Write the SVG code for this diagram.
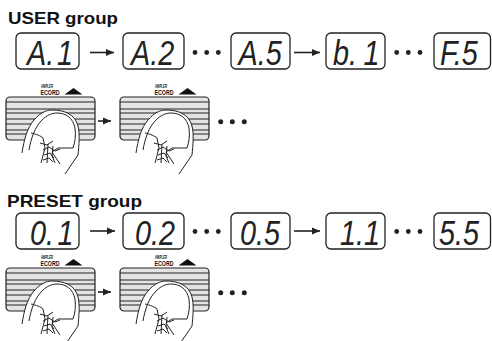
<svg xmlns="http://www.w3.org/2000/svg" xmlns:xlink="http://www.w3.org/1999/xlink" width="492" height="341" viewBox="0 0 492 341">
<style>
.title{font-family:"Liberation Sans",Arial,sans-serif;font-weight:bold;font-size:16.5px;fill:#111}
.box{fill:#fff;stroke:#222;stroke-width:1.3}
.seg{font-family:"Liberation Sans",Arial,sans-serif;font-style:italic;font-size:36px;fill:#222}
.conn{stroke:#222;stroke-width:1.6;fill:none}
.dot{fill:#222}
.lbl{font-family:"Liberation Sans",Arial,sans-serif;font-weight:bold;fill:#111}
.ln{stroke:#222;stroke-width:1;fill:none}
</style>
<defs>
<marker id="ah" markerUnits="userSpaceOnUse" markerWidth="9" markerHeight="8" refX="8" refY="4" orient="auto">
<path d="M0,0.5 L8,4 L0,7.5 Z" fill="#222"/>
</marker>
<g id="pedal">
<text class="lbl" x="47" y="87.5" font-size="5" text-anchor="middle" textLength="12" lengthAdjust="spacingAndGlyphs">AMPLER</text>
<text class="lbl" x="50" y="94.5" font-size="6.5" text-anchor="middle" textLength="19" lengthAdjust="spacingAndGlyphs">ECORD</text>
<polygon points="64.5,94.5 82.5,94.5 73.5,88" fill="#111"/>
<rect x="6" y="97" width="89" height="43" rx="4" fill="#e4e4e4" stroke="#222" stroke-width="1.2"/>
<path class="ln" d="M6,102 H95 M6,109 H95 M6,113 H95 M6,119 H95 M6,124 H95 M6,130 H95 M6,134 H95"/>
<path d="M22,153 C24,140 27,128 34,120 C40,113 46,110 52,110 C64,110 75,114 78,126 C80,134 79,145 78,155 L65,174 L40,166 Z" fill="#fff"/>
<path class="ln" d="M22,153 C24,140 27,128 34,120 C40,113 46,110 52,110 C64,110 75,114 78,126 C80,134 79,145 78,155 L65,174"/>
<path class="ln" d="M29,150 C31,138 35,127 42,120 C47,115 52,113 57,113 C66,113 73,118 75,128 C76,136 75,142 73,148"/>
<path class="ln" d="M31,133 C36,134 41,136 43,138 L45,148 L41,163"/>
<path class="ln" d="M73,148 L58,148 L52,152 L60,164"/>
<path class="ln" stroke-width="0.8" d="M40,143 L47,145 L53,141 M43,150 L49,147 L55,151 L60,149 M44,155 L50,153 L54,158 M43,160 L49,158 L53,162 M48,144 L47,163 M53,146 L52,156 L55,163"/>
</g>
</defs>

<text class="title" x="8" y="24" textLength="110" lengthAdjust="spacingAndGlyphs">USER group</text>
<text class="title" x="7" y="207" textLength="135" lengthAdjust="spacingAndGlyphs">PRESET group</text>

<g id="connectors">
<path class="conn" marker-end="url(#ah)" d="M90,52.5 H114"/>
<path class="conn" marker-end="url(#ah)" d="M294,52.5 H320"/>
<path class="conn" marker-end="url(#ah)" d="M90,231 H115"/>
<path class="conn" marker-end="url(#ah)" d="M294,231 H320"/>
<path class="conn" marker-end="url(#ah)" d="M98,121 H111"/>
<path class="conn" marker-end="url(#ah)" d="M98,292 H111"/>
<g class="dot">
<circle cx="195" cy="52.5" r="2.4"/><circle cx="206.7" cy="52.5" r="2.4"/><circle cx="218.3" cy="52.5" r="2.4"/>
<circle cx="396.7" cy="52.5" r="2.4"/><circle cx="408.3" cy="52.5" r="2.4"/><circle cx="420" cy="52.5" r="2.4"/>
<circle cx="195" cy="231.5" r="2.4"/><circle cx="206.7" cy="231.5" r="2.4"/><circle cx="218.3" cy="231.5" r="2.4"/>
<circle cx="396.7" cy="231.5" r="2.4"/><circle cx="408.3" cy="231.5" r="2.4"/><circle cx="420" cy="231.5" r="2.4"/>
<circle cx="220.7" cy="121.7" r="2.5"/><circle cx="232.3" cy="121.7" r="2.5"/><circle cx="244.3" cy="121.7" r="2.5"/>
<circle cx="220.7" cy="292.7" r="2.5"/><circle cx="232.3" cy="292.7" r="2.5"/><circle cx="244.3" cy="292.7" r="2.5"/>
</g>
</g>

<g id="disp-A1"><rect class="box" x="16" y="33" width="63" height="36" rx="5"/>
<text class="seg" transform="scale(0.8,1)" x="33.75" y="65">A.<tspan dx="3.5">1</tspan></text></g>
<g id="disp-A2"><rect class="box" x="123" y="33" width="61" height="36" rx="5"/>
<text class="seg" transform="scale(0.8,1)" x="163.75" y="65">A.2</text></g>
<g id="disp-A5"><rect class="box" x="231" y="33" width="59" height="36" rx="5"/>
<text class="seg" transform="scale(0.8,1)" x="298.1" y="65">A.5</text></g>
<g id="disp-b1"><rect class="box" x="326" y="33" width="59" height="36" rx="5"/>
<text class="seg" transform="scale(0.8,1)" x="416.25" y="65">b.<tspan dx="8.1">1</tspan></text></g>
<g id="disp-F5"><rect class="box" x="434" y="33" width="56.5" height="36" rx="5"/>
<text class="seg" transform="scale(0.8,1)" x="550" y="65">F.5</text></g>

<g id="disp-01"><rect class="box" x="16" y="213" width="63" height="36" rx="5"/>
<text class="seg" transform="scale(0.8,1)" x="37.5" y="245">0.<tspan dx="4.4">1</tspan></text></g>
<g id="disp-02"><rect class="box" x="123" y="213" width="61" height="36" rx="5"/>
<text class="seg" transform="scale(0.8,1)" x="168.75" y="245">0.2</text></g>
<g id="disp-05"><rect class="box" x="231" y="213" width="59" height="36" rx="5"/>
<text class="seg" transform="scale(0.8,1)" x="300" y="245">0.5</text></g>
<g id="disp-11"><rect class="box" x="326" y="213" width="59" height="36" rx="5"/>
<text class="seg" transform="scale(0.8,1)" x="425" y="245">1.1</text></g>
<g id="disp-55"><rect class="box" x="434" y="213" width="56.5" height="36" rx="5"/>
<text class="seg" transform="scale(0.8,1)" x="548.75" y="245">5.5</text></g>

<g id="pedal-user-1"><use href="#pedal" xlink:href="#pedal"/></g>
<g id="pedal-user-2"><use href="#pedal" xlink:href="#pedal" x="114"/></g>
<g id="pedal-preset-1"><use href="#pedal" xlink:href="#pedal" y="171"/></g>
<g id="pedal-preset-2"><use href="#pedal" xlink:href="#pedal" x="114" y="171"/></g>
</svg>
